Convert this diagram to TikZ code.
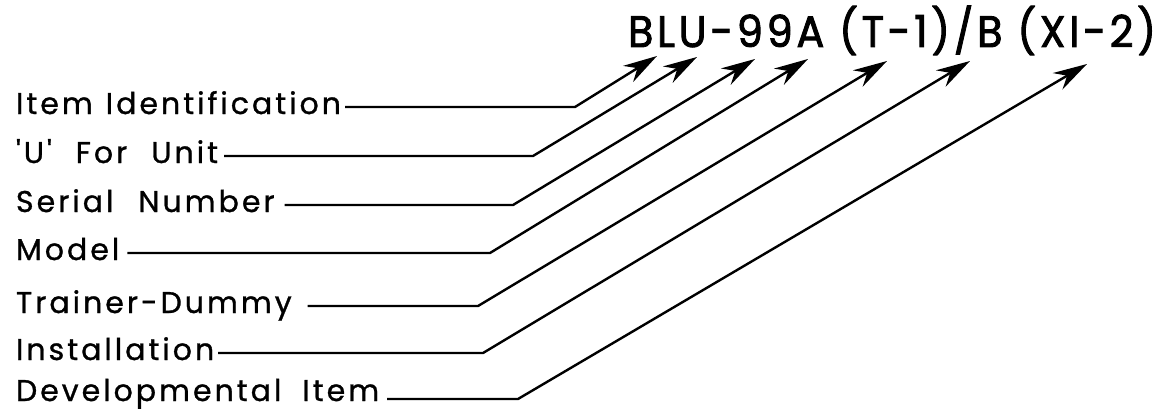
\documentclass[tikz,border=0pt]{standalone}
\usepackage{fontspec}
\setmainfont{Poppins}
\usetikzlibrary{arrows.meta}
\newfontfamily\labfont{Poppins}[LetterSpace=10,FakeBold=1]
\newfontfamily\ttlfont{Poppins}[LetterSpace=8.5,FakeBold=2,FakeStretch=0.94]
\newcommand{\gp}[1]{\hspace{#1pt}}
\begin{document}
\begin{tikzpicture}[x=1pt,y=-1pt,
  lab/.style={font={\labfont\fontsize{30}{30}\selectfont}, anchor=base west, inner sep=0pt, outer sep=0pt},
  ttl/.style={font={\ttlfont\fontsize{44}{44}\selectfont}, anchor=base west, inner sep=0pt, outer sep=0pt},
  conn/.style={line width=2.4pt, line join=miter, -{Stealth[length=34pt,width=19pt,inset=11pt]}}]
\useasboundingbox (0,0) rectangle (1160,412);
\node[ttl] (title) at (628,47) {BLU-99A (T-1)/B (XI-2)};
% labels
\node[lab] (l1) at (16,114) {Item\gp{2} Identification};
\node[lab] (l2) at (16,163) {'U'\gp{13} For\gp{13} Unit};
\node[lab] (l3) at (16,212) {Serial\gp{14} Number};
\node[lab] (l4) at (16,260) {Model};
\node[lab] (l5) at (16,313) {Trainer-Dummy};
\node[lab] (l6) at (16,360) {Installation};
\node[lab] (l7) at (16,401) {Developmental\gp{10} Item};
% elbows
\coordinate (e1) at (575,107);
\coordinate (e2) at (533,156);
\coordinate (e3) at (513,205);
\coordinate (e4) at (490,253);
\coordinate (e5) at (478,306);
\coordinate (e6) at (483,353);
\coordinate (e7) at (518,399);
% tips
\coordinate (t1) at (657,56);
\coordinate (t2) at (697,57);
\coordinate (t3) at (755,59);
\coordinate (t4) at (808,59);
\coordinate (t5) at (887,61);
\coordinate (t6) at (970,61);
\coordinate (t7) at (1087,64);
\foreach \i/\g in {1/4,2/6,3/10,4/8,5/16,6/4,7/8}{
  \draw[conn] ([xshift=\g pt]l\i.east |- e\i) -- (e\i) -- (t\i);
}
\end{tikzpicture}
\end{document}
